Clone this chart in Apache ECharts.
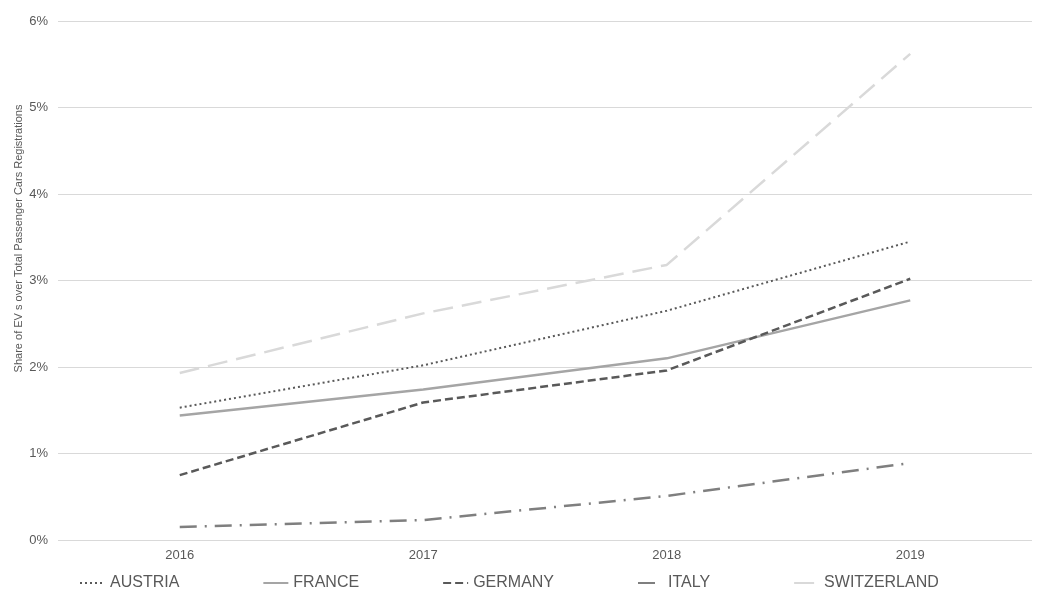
<!DOCTYPE html>
<html><head><meta charset="utf-8">
<script src="https://cdn.jsdelivr.net/npm/echarts@6/dist/echarts.min.js"></script>
<style>html,body{margin:0;padding:0;background:#fff}#c{width:1038px;height:592px}</style>
</head><body><div id="c"></div>
<script>
const years = ['2016', '2017', '2018', '2019'];
const austria = [1.53, 2.02, 2.65, 3.45];
const france = [1.44, 1.74, 2.10, 2.77];
const germany = [0.75, 1.59, 1.96, 3.02];
const italy = [0.15, 0.23, 0.51, 0.89];
const switzerland = [1.93, 2.62, 3.18, 5.62];
const yTicks = [0, 1, 2, 3, 4, 5, 6];

const font = 'Liberation Sans, Arial, sans-serif';
function mk(name, data, color, width, dash) {
  return {
    name, type: 'line', data, symbol: 'none', smooth: false,
    lineStyle: { color, width, type: dash, cap: 'butt' },
    itemStyle: { color },
    emphasis: { disabled: true }
  };
}
const chart = echarts.init(document.getElementById('c'), null, { renderer: 'canvas' });
chart.setOption({
  animation: false,
  backgroundColor: '#fff',
  grid: { left: 58, right: 6, top: 21, bottom: 52, containLabel: false },
  xAxis: {
    type: 'category', data: years, boundaryGap: true,
    axisLine: { show: false }, axisTick: { show: false },
    axisLabel: { color: '#595959', fontSize: 13, fontFamily: font, margin: 9 }
  },
  yAxis: {
    type: 'value', min: yTicks[0], max: yTicks[yTicks.length - 1], interval: 1,
    name: 'Share of EV s over Total Passenger Cars Registrations',
    nameLocation: 'middle', nameGap: 34, nameMoveOverlap: false,
    nameTextStyle: { color: '#595959', fontSize: 11, fontFamily: font, padding: [0, 0, 0, 84] },
    axisLine: { show: false }, axisTick: { show: false },
    axisLabel: { color: '#595959', fontSize: 13, fontFamily: font, margin: 10, formatter: v => v + '%' },
    splitLine: { lineStyle: { color: '#D9D9D9', width: 1 } }
  },
  legend: {
    top: 570, left: 74, itemGap: 83, itemWidth: 25, itemHeight: 10,
    itemStyle: { opacity: 0 },
    textStyle: { color: '#595959', fontSize: 16, fontFamily: font },
    formatter: n => n.toUpperCase()
  },
  series: [
    mk('Austria', austria, '#595959', 2, [2, 3]),
    mk('France', france, '#A5A5A5', 2.5, 'solid'),
    mk('Germany', germany, '#595959', 2.5, [8, 4]),
    mk('Italy', italy, '#7F7F7F', 2.5, [17, 8, 2, 8]),
    mk('Switzerland', switzerland, '#D9D9D9', 2.5, [20, 9])
  ]
});
</script></body></html>
